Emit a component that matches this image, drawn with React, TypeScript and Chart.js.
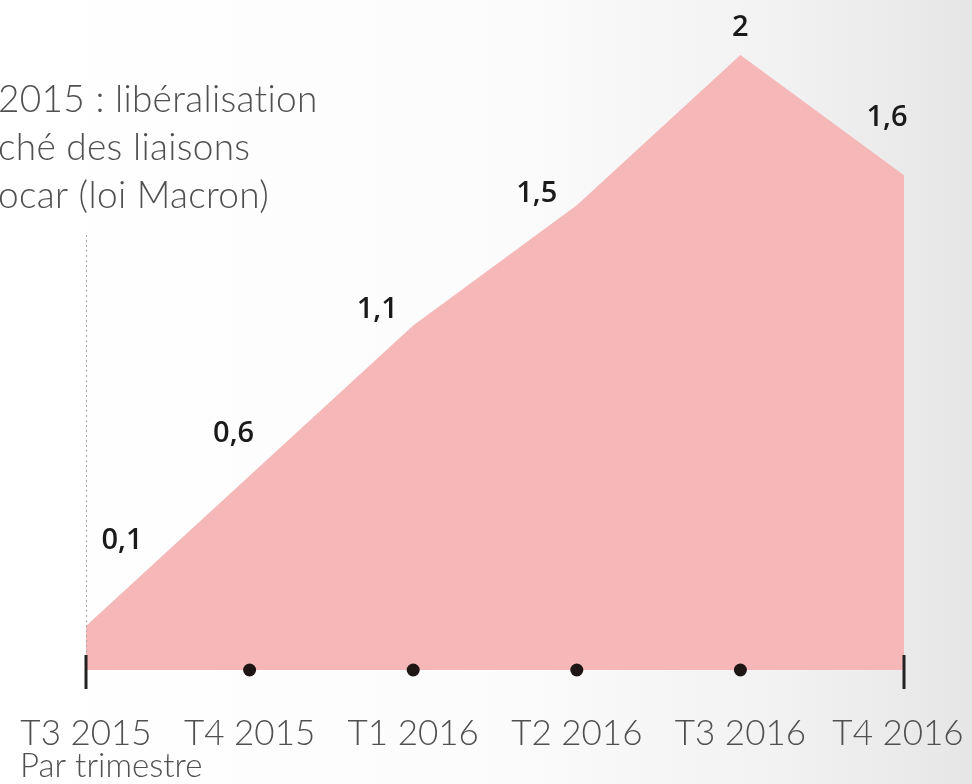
import React, { useEffect, useRef } from "react";
import { Chart, registerables } from "chart.js";

Chart.register(...registerables);

const categories = ["T3 2015", "T4 2015", "T1 2016", "T2 2016", "T3 2016", "T4 2016"];
const values = [0.1, 0.6, 1.1, 1.5, 2, 1.6];
const valueLabels = ["0,1", "0,6", "1,1", "1,5", "2", "1,6"];
const annotationLines = ["2015 : libéralisation", "ché des liaisons", "ocar (loi Macron)"];
const axisTitle = "Par trimestre";
const labelOffsets = [
  [36, -85],
  [-16, -42],
  [-36, -16],
  [-40, -12],
  [0, -27],
  [-17, -58],
];

const W = 972;
const H = 784;

const bgPlugin = {
  id: "bg",
  beforeDraw(chart: any) {
    const ctx = chart.ctx;
    ctx.save();
    const g = ctx.createLinearGradient(0, 0, W, 0);
    g.addColorStop(0, "#ffffff");
    g.addColorStop(0.5, "#fcfcfc");
    g.addColorStop(0.8, "#f2f2f2");
    g.addColorStop(1, "#e6e6e6");
    ctx.fillStyle = g;
    ctx.fillRect(0, 0, W, H);
    ctx.restore();
  },
};

const decoPlugin = {
  id: "deco",
  afterDatasetsDraw(chart: any) {
    const ctx = chart.ctx;
    const xs = chart.scales.x;
    const ys = chart.scales.y;
    const base = chart.chartArea.bottom;
    ctx.save();

    // dotted vertical reference line at first quarter
    const x0 = xs.getPixelForValue(0);
    ctx.strokeStyle = "#a8a8a8";
    ctx.lineWidth = 1;
    ctx.setLineDash([2, 3]);
    ctx.beginPath();
    ctx.moveTo(x0 + 0.5, 235);
    ctx.lineTo(x0 + 0.5, base - 15);
    ctx.stroke();
    ctx.setLineDash([]);

    // ticks and dots
    const n = categories.length;
    for (let i = 0; i < n; i++) {
      const x = xs.getPixelForValue(i);
      if (i === 0 || i === n - 1) {
        ctx.strokeStyle = "#222";
        ctx.lineWidth = 3;
        ctx.beginPath();
        ctx.moveTo(x, base - 15);
        ctx.lineTo(x, base + 19);
        ctx.stroke();
      } else {
        ctx.fillStyle = "#1e1515";
        ctx.beginPath();
        ctx.arc(x, base, 6.5, 0, Math.PI * 2);
        ctx.fill();
      }
      // tick labels
      ctx.fillStyle = "#505050";
      ctx.font = "300 35px Lato";
      ctx.textAlign = "center";
      ctx.textBaseline = "alphabetic";
      const lx = i === n - 1 ? x - 6 : x;
      ctx.fillText(categories[i], lx, base + 75);
    }

    // axis title
    ctx.font = "300 33px Lato";
    ctx.textAlign = "left";
    ctx.fillStyle = "#505050";
    ctx.fillText(axisTitle, 20, base + 107);

    // value labels
    ctx.font = "600 29px 'Open Sans'";
    ctx.fillStyle = "#1a1a1a";
    ctx.textAlign = "center";
    ctx.textBaseline = "middle";
    for (let i = 0; i < n; i++) {
      const x = xs.getPixelForValue(i);
      const y = ys.getPixelForValue(values[i]);
      ctx.fillText(valueLabels[i], x + labelOffsets[i][0], y + labelOffsets[i][1]);
    }

    // annotation
    ctx.font = "300 37px Lato";
    ctx.fillStyle = "#505050";
    ctx.textAlign = "left";
    ctx.textBaseline = "alphabetic";
    try {
      (ctx as any).letterSpacing = "0.3px";
    } catch (e) {}
    annotationLines.forEach((t, k) => {
      ctx.fillText(t, -2, 112 + k * 48);
    });

    ctx.restore();
  },
};

export default function App() {
  const ref = useRef<HTMLCanvasElement | null>(null);
  useEffect(() => {
    document.body.style.margin = "0";
    const canvas = ref.current!;
    const chart = new Chart(canvas, {
      type: "line",
      data: {
        labels: categories,
        datasets: [
          {
            data: values,
            fill: "start",
            backgroundColor: "#f5b7b8",
            borderWidth: 0,
            borderColor: "rgba(0,0,0,0)",
            pointRadius: 0,
            tension: 0,
          },
        ],
      },
      options: {
        responsive: false,
        animation: false,
        layout: { padding: { left: 86, right: 68, top: 55, bottom: 114 } },
        plugins: { legend: { display: false }, tooltip: { enabled: false } },
        scales: {
          x: { display: false, offset: false },
          y: { display: false, min: -0.046, max: 2 },
        },
      },
      plugins: [bgPlugin, decoPlugin],
    });
    return () => chart.destroy();
  }, []);
  return <canvas ref={ref} width={W} height={H} style={{ display: "block" }} />;
}
